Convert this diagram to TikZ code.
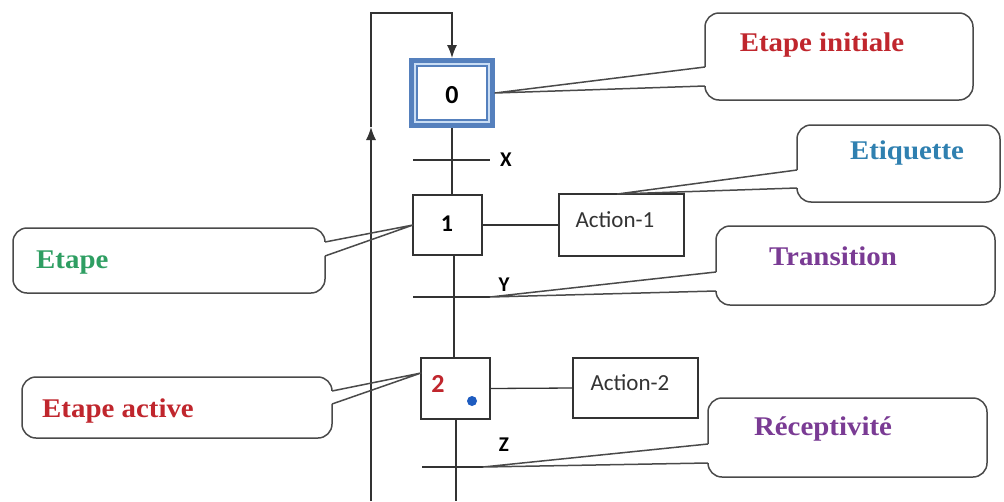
\documentclass[tikz,border=0pt]{standalone}
\usepackage{fontspec}
\setmainfont{Liberation Serif}
\newfontfamily\calibf{Carlito}
\newfontfamily\callfont{Liberation Serif}[FakeStretch=1.07]
\usetikzlibrary{arrows.meta,calc}
\definecolor{linegray}{HTML}{333333}
\definecolor{calgray}{HTML}{4A4A4A}
\definecolor{stepblue}{HTML}{5580BD}
\definecolor{lightstep}{HTML}{C9DDF4}
\definecolor{redtxt}{HTML}{C0262D}
\definecolor{greentxt}{HTML}{2E9E62}
\definecolor{bluetxt}{HTML}{2F80B0}
\definecolor{purpletxt}{HTML}{7A3B94}
\definecolor{dotblue}{HTML}{1E5CC0}
\begin{document}
\begin{tikzpicture}[x=1pt,y=-1pt,
  ln/.style={draw=linegray, line width=1.3pt},
  arr/.style={-{Latex[length=13pt,width=10pt]}},
  stepbox/.style={draw=linegray, line width=1.3pt, fill=white, inner sep=0pt, outer sep=0pt, minimum width=69pt},
  actbox/.style={draw=linegray, line width=1.3pt, fill=white, inner sep=0pt, outer sep=0pt, minimum width=125pt},
  callout/.style={draw=calgray, line width=1.5pt, rounded corners=14pt, fill=white, inner sep=0pt, outer sep=0pt},
  callln/.style={draw=calgray, line width=1.5pt, line join=round},
  gap/.style={draw=white, line width=2.6pt},
  lbl/.style={font=\callfont\bfseries\fontsize{27}{30}\selectfont, inner sep=0pt},
  stepnum/.style={font=\calibf\bfseries\fontsize{24}{28}\selectfont, inner sep=0pt},
  trlbl/.style={font=\calibf\bfseries\fontsize{21}{24}\selectfont, inner sep=0pt},
  acttxt/.style={font=\calibf\fontsize{23}{26}\selectfont, inner sep=0pt, text=linegray}
]
\useasboundingbox[fill=white] (0,0) rectangle (1004,501);

% ---- callouts (shapes) ----
\node[callout, minimum width=268pt, minimum height=87pt] (c0) at (839,56.5) {};
\node[callout, minimum width=203pt, minimum height=77pt] (cE) at (898.5,163.5) {};
\node[callout, minimum width=279pt, minimum height=79pt] (cT) at (855.5,265.5) {};
\node[callout, minimum width=312pt, minimum height=65pt] (cS) at (169,260.5) {};
\node[callout, minimum width=310pt, minimum height=61pt] (cA) at (177,407.5) {};
\node[callout, minimum width=279pt, minimum height=79pt] (cR) at (847.5,437.5) {};

% ---- steps ----
\node[draw=stepblue, line width=5pt, fill=lightstep, inner sep=0pt, outer sep=2.5pt,
      minimum width=81pt, minimum height=65pt] (s0) at (452,93) {};
\node[draw=stepblue, line width=1.2pt, fill=white, inner sep=0pt,
      minimum width=70pt, minimum height=54pt] (s0i) at (s0) {};
\node[stepnum, font=\calibf\bfseries\fontsize{26}{30}\selectfont] (n0) at (452,95) {0};

\node[stepbox, minimum height=60pt] (s1) at (447.5,225) {};
\node[stepnum] (n1) at (447,224) {1};

\node[stepbox, minimum height=61pt] (s2) at (455.5,388.5) {};
\node[stepnum, text=redtxt, font=\calibf\bfseries\fontsize{26}{30}\selectfont] (n2) at (438,384) {2};
\fill[dotblue] (472,401) circle (5pt);

% ---- actions ----
\node[actbox, minimum height=62pt] (a1) at (621.5,225) {};
\node[acttxt] (t1) at (615,220) {Action-1};
\node[actbox, minimum height=60pt] (a2) at (635.5,388) {};
\node[acttxt] (t2) at (630,383) {Action-2};

% ---- transitions ----
\coordinate (tX1) at (413,160); \coordinate (tX2) at (490,160);
\coordinate (tY1) at (413,297); \coordinate (tY2) at (490,297);
\coordinate (tZ1) at (422,467); \coordinate (tZ2) at (483,467);
\draw[ln] (tX1) -- (tX2);
\draw[ln] (tY1) -- (tY2);
\draw[ln] (tZ1) -- (tZ2);
\node[trlbl] (lx) at (506,160) {X};
\node[trlbl] (ly) at (504,285) {Y};
\node[trlbl] (lz) at (504,445) {Z};

% ---- main vertical line ----
\coordinate (bot) at (456,501);
\coordinate (mid) at (454,300);
\draw[ln] (s0.south) -- (s0.south |- s1.north);
\draw[ln] (s1.south -| mid) -- (s2.north -| mid);
\draw[ln] (s2.south -| bot) -- (bot);

% ---- action links ----
\draw[ln] (s1.east) -- (a1.west);
\draw[ln] (s2.east) -- (a2.west);

% ---- feedback loop ----
\coordinate (fb0) at (371,501);
\coordinate (fbA) at (371,127);
\coordinate (fbT) at (371,13);
\draw[ln, arr] (fb0) -- (fbA);
\draw[ln, arr] (fbA) -- (fbT) -- (s0.north |- fbT) -- (s0.north);

% ---- callout pointers ----
\coordinate (c0a) at ($(c0.west)+(0,10.5)$);  \coordinate (c0b) at ($(c0.west)+(0,29.5)$);
\coordinate (cEa) at ($(cE.west)+(0,6.5)$);   \coordinate (cEb) at ($(cE.west)+(0,24.5)$);
\coordinate (cTa) at ($(cT.west)+(0,6.5)$);   \coordinate (cTb) at ($(cT.west)+(0,25.5)$);
\coordinate (cSa) at ($(cS.east)+(0,-18.5)$); \coordinate (cSb) at ($(cS.east)+(0,-4.5)$);
\coordinate (cAa) at ($(cA.east)+(0,-16.5)$); \coordinate (cAb) at ($(cA.east)+(0,-3.5)$);
\coordinate (cRa) at ($(cR.west)+(0,6.5)$);   \coordinate (cRb) at ($(cR.west)+(0,25.5)$);
\coordinate (pE) at ($(a1.north)+(-4,0)$);
\coordinate (pA) at ($(s2.north west)+(0,15)$);

\draw[gap] (c0a) -- (c0b); \draw[callln] (c0a) -- (s0.east) -- (c0b);
\draw[gap] (cEa) -- (cEb); \draw[callln] (cEa) -- (pE) -- (cEb);
\draw[gap] (cTa) -- (cTb); \draw[callln] (cTa) -- (tY2) -- (cTb);
\draw[gap] (cSa) -- (cSb); \draw[callln] (cSa) -- (s1.west) -- (cSb);
\draw[gap] (cAa) -- (cAb); \draw[callln] (cAa) -- (pA) -- (cAb);
\draw[gap] (cRa) -- (cRb); \draw[callln] (cRa) -- (tZ2) -- (cRb);

% ---- callout texts ----
\node[lbl, text=redtxt] (l0) at (822,45) {Etape initiale};
\node[lbl, text=bluetxt] (lE) at (907,153) {Etiquette};
\node[lbl, text=purpletxt] (lT) at (833,256) {Transition};
\node[lbl, text=greentxt, anchor=west] (lS) at (36,263) {Etape};
\node[lbl, text=redtxt, anchor=west] (lA) at (42,411) {Etape active};
\node[lbl, text=purpletxt] (lR) at (823,429) {Réceptivité};
\end{tikzpicture}
\end{document}
